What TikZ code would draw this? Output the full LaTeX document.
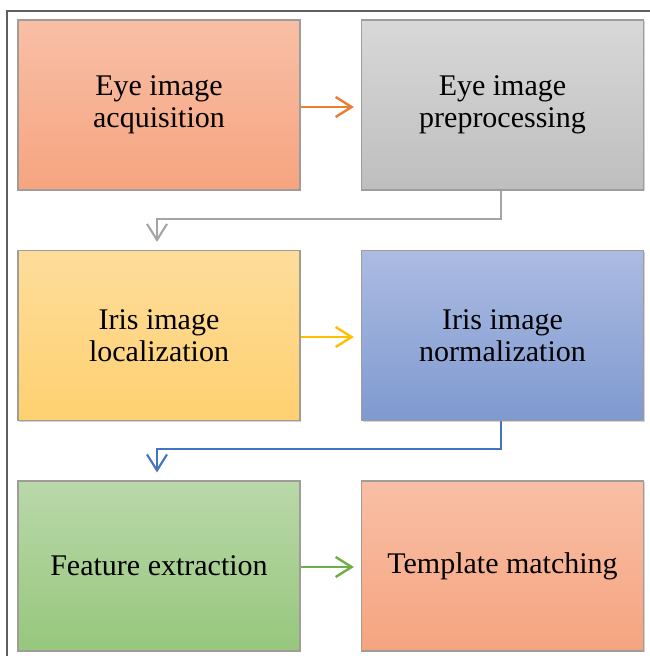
\documentclass[tikz,border=0pt]{standalone}
\usepackage{fontspec}
\setmainfont{Liberation Serif}
\usetikzlibrary{arrows.meta,shadows}

\definecolor{peachTop}{RGB}{248,191,166}
\definecolor{peachBot}{RGB}{246,164,127}
\definecolor{grayTop}{RGB}{216,216,216}
\definecolor{grayBot}{RGB}{190,190,190}
\definecolor{goldTop}{RGB}{254,221,155}
\definecolor{goldBot}{RGB}{254,208,112}
\definecolor{blueTop}{RGB}{172,187,226}
\definecolor{blueBot}{RGB}{127,154,208}
\definecolor{greenTop}{RGB}{186,216,170}
\definecolor{greenBot}{RGB}{150,199,124}
\definecolor{edgeGray}{RGB}{160,156,152}
\definecolor{frameGray}{RGB}{95,95,95}
\definecolor{arrOrange}{RGB}{237,125,49}
\definecolor{arrGray}{RGB}{165,165,165}
\definecolor{arrGold}{RGB}{255,192,0}
\definecolor{arrBlue}{RGB}{68,114,196}
\definecolor{arrGreen}{RGB}{112,173,71}

\tikzset{
  stage/.style={draw=edgeGray, line width=1.2pt, minimum width=282pt,
    minimum height=170pt, align=center, inner sep=0pt,
    font=\fontsize{30}{32}\selectfont,
    drop shadow={shadow xshift=1.2pt, shadow yshift=-1.2pt, opacity=0.35}},
  flow/.style={line width=2.4pt, -{Straight Barb[length=16pt,width=20pt]}},
  elbow/.style={line width=2.1pt, -{Straight Barb[length=16pt,width=20pt]}},
}

\begin{document}
\begin{tikzpicture}[x=1pt, y=-1pt]
\useasboundingbox (0,0) rectangle (650,656);

% outer frame (only top and left edges fall inside the page)
\draw[frameGray, line width=1.5pt] (7,700) -- (7,11) -- (700,11);

% process stages
\node[stage, top color=peachTop, bottom color=peachBot] (acq) at (159,105) {Eye image\\acquisition};
\node[stage, top color=grayTop, bottom color=grayBot] (pre) at (502.5,105) {Eye image\\preprocessing};
\node[stage, top color=goldTop, bottom color=goldBot] (loc) at (159,335.5) {Iris image\\localization};
\node[stage, top color=blueTop, bottom color=blueBot] (nor) at (502.5,335.5) {Iris image\\normalization};
\node[stage, top color=greenTop, bottom color=greenBot] (fea) at (159,566) {Feature extraction};
\node[stage, top color=peachTop, bottom color=peachBot] (tem) at (502.5,566) {Template matching};

% connectors
\draw[flow, arrOrange, shorten >=7pt] ([yshift=-2pt]acq.east) -- ([yshift=-2pt]pre.west);
\draw[elbow, arrGray, shorten >=8pt] ([xshift=-1.5pt]pre.south) -- ++(0,28) -| ([xshift=-2pt]loc.north);
\draw[flow, arrGold, shorten >=7pt] ([yshift=-1.5pt]loc.east) -- ([yshift=-1.5pt]nor.west);
\draw[elbow, arrBlue, shorten >=8pt] ([xshift=-1.5pt]nor.south) -- ++(0,28) -| ([xshift=-2pt]fea.north);
\draw[flow, arrGreen, shorten >=7pt] ([yshift=-1pt]fea.east) -- ([yshift=-1pt]tem.west);
\end{tikzpicture}
\end{document}
